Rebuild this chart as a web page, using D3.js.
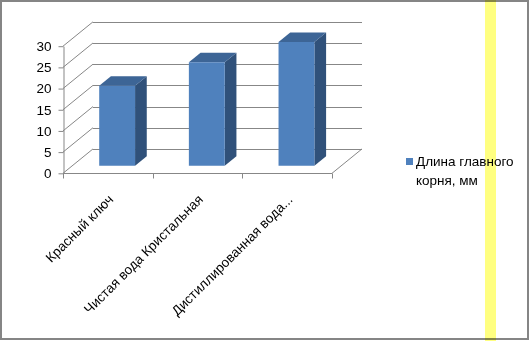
<!DOCTYPE html>
<html><head><meta charset="utf-8">
<script src="https://cdn.jsdelivr.net/npm/d3@7"></script>
<style>
body{margin:0;background:#fff}
svg{display:block}
text{font-family:"Liberation Sans",Arial,sans-serif;fill:#000}
</style>
</head><body>
<svg id="c" width="530" height="341"></svg>
<script>
// ---- data ----
const categories = ["Красный ключ", "Чистая вода Кристальная", "Дистиллированная вода..."];
const values = [18.9, 24.4, 29.2];
const seriesName = "Длина главного корня, мм";
const legendLines = ["Длина главного", "корня, мм"];
const yTicks = [0, 5, 10, 15, 20, 25, 30];

// ---- layout ----
const svg = d3.select("#c");
const W = 530, H = 341;
const DX = 30, DY = -24.4;          // oblique depth offset
const F1 = 0.31, F2 = 0.70;         // bar depth range
const gridColor = "#878787";
const FS = 13.5;

const x = d3.scaleBand().domain(categories).range([63, 332]).paddingInner(0).paddingOuter(0);
const y = d3.scaleLinear().domain([0, 30]).range([173.3, 46.2]);
const P = (px, py, f) => [px + f * DX, py + f * DY];

// background & frame
svg.append("rect").attr("x", 0).attr("y", 0).attr("width", W).attr("height", H).attr("fill", "#fff");
svg.append("rect").attr("x", 1).attr("y", 1).attr("width", 527).attr("height", 338)
  .attr("fill", "none").attr("stroke", "#858585").attr("stroke-width", 2);

const g = svg.append("g");

// back wall gridlines
yTicks.forEach(t => {
  const a = P(x.range()[0], y(t), 1), b = P(x.range()[1], y(t), 1);
  g.append("line").attr("x1", a[0]).attr("y1", Math.round(a[1]) + 0.5)
    .attr("x2", b[0]).attr("y2", Math.round(a[1]) + 0.5)
    .attr("stroke", gridColor).attr("stroke-width", 1);
  // left wall diagonals
  g.append("line").attr("x1", x.range()[0]).attr("y1", y(t))
    .attr("x2", a[0]).attr("y2", a[1])
    .attr("stroke", gridColor).attr("stroke-width", 1);
});
// floor right edge
{
  const a = [x.range()[1], y(0)], b = P(x.range()[1], y(0), 1);
  g.append("line").attr("x1", a[0]).attr("y1", a[1]).attr("x2", b[0]).attr("y2", b[1])
    .attr("stroke", gridColor).attr("stroke-width", 1);
}

// y axis
const yAxis = d3.axisLeft(y).tickValues(yTicks).tickSize(5).tickSizeOuter(0).tickPadding(7);
const ya = svg.append("g").attr("transform", "translate(63.5,0)").call(yAxis);
ya.select(".domain").attr("stroke", gridColor);
ya.selectAll(".tick line").attr("stroke", gridColor);
ya.selectAll(".tick text").attr("font-size", FS).attr("font-family", '"Liberation Sans",Arial,sans-serif').attr("fill", "#000");

// x axis line and boundary ticks
svg.append("line").attr("x1", x.range()[0]).attr("y1", 173.5).attr("x2", x.range()[1]).attr("y2", 173.5)
  .attr("stroke", gridColor);
const bounds = categories.map(c => x(c)).concat([x.range()[1]]);
svg.selectAll(".xt").data(bounds).enter().append("line")
  .attr("x1", d => Math.round(d) + 0.5).attr("x2", d => Math.round(d) + 0.5)
  .attr("y1", 173.5).attr("y2", 178.5).attr("stroke", gridColor);

// bars
const bw = x.bandwidth() * 0.4;
const bars = svg.append("g");
categories.forEach((c, i) => {
  const x0 = x(c) + (x.bandwidth() - bw) / 2, x1 = x0 + bw;
  const yb = y(0), yt = y(values[i]);
  const fBL = P(x0, yb, F1), fBR = P(x1, yb, F1), fTL = P(x0, yt, F1), fTR = P(x1, yt, F1);
  const bTL = P(x0, yt, F2), bTR = P(x1, yt, F2), bBR = P(x1, yb, F2);
  const poly = pts => pts.map(p => p.join(",")).join(" ");
  bars.append("polygon").attr("points", poly([fTR, bTR, bBR, fBR])).attr("fill", "#30517A");
  bars.append("polygon").attr("points", poly([fTL, bTL, bTR, fTR])).attr("fill", "#3D6596");
  bars.append("polygon").attr("points", poly([fTL, fTR, fBR, fBL])).attr("fill", "#4F81BD");
});

// category labels
svg.selectAll(".cl").data(categories).enter().append("text")
  .attr("transform", d => `translate(${x(d) + x.bandwidth() / 2 + 3},${197}) rotate(-45)`)
  .attr("text-anchor", "end").attr("dy", "0.35em").attr("font-size", FS)
  .text(d => d);

// legend
svg.append("rect").attr("x", 406).attr("y", 158).attr("width", 7).attr("height", 7).attr("fill", "#4F81BD");
svg.selectAll(".lg").data(legendLines).enter().append("text")
  .attr("x", 416).attr("y", (d, i) => 166 + i * 19).attr("font-size", FS).text(d => d);

// yellow highlight stripe
svg.append("rect").attr("x", 485).attr("y", 0).attr("width", 11).attr("height", H)
  .attr("fill", "#FFFF80").style("mix-blend-mode", "multiply");
</script>
</body></html>
